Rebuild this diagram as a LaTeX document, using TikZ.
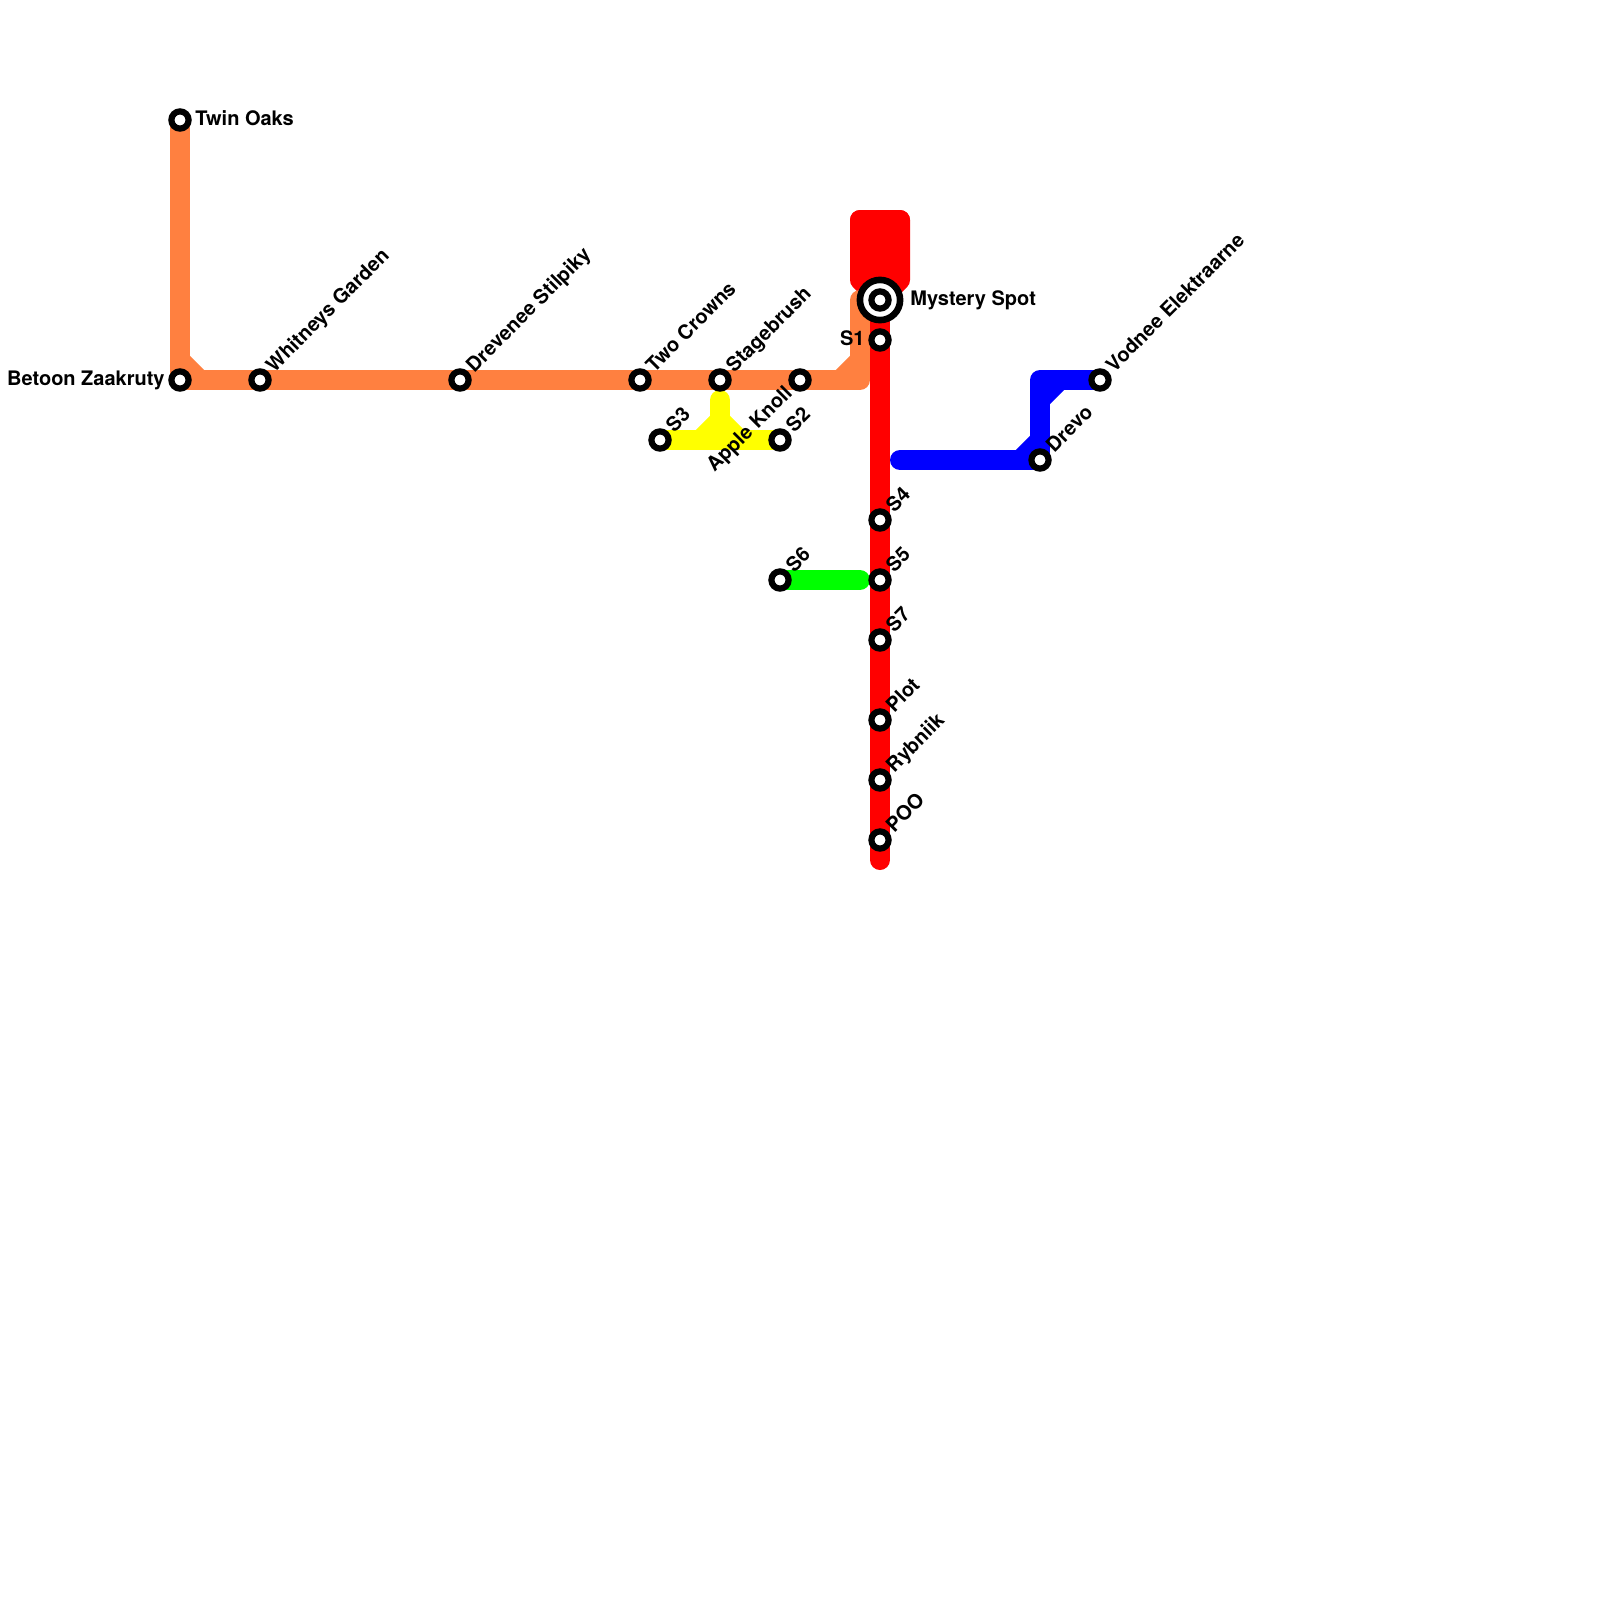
\documentclass[tikz,border=0pt]{standalone}
\usepackage{fontspec}
\setmainfont{TeX Gyre Heros}
\pgfdeclarelayer{lines}
\pgfsetlayers{lines,main}
\definecolor{lineorange}{RGB}{255,128,64}
\definecolor{lineblue}{RGB}{0,0,255}
\definecolor{linered}{RGB}{255,0,0}
\definecolor{lineyellow}{RGB}{255,255,0}
\definecolor{linegreen}{RGB}{0,255,0}
\tikzset{
  metro/.style={line width=10pt,line cap=round,line join=round},
  buttline/.style={line width=10pt,line cap=butt,line join=round},
  station/.style={circle,draw=black,fill=white,line width=3.1pt,minimum size=8.6pt,inner sep=0pt,outer sep=0pt},
  interchange/.style={circle,draw=black,fill=white,line width=3.3pt,minimum size=20.1pt,inner sep=0pt,outer sep=0pt},
  lab/.style={font=\bfseries\fontsize{10}{12}\selectfont,inner sep=0pt,text=black},
  diag/.style={lab,anchor=base west,rotate=45},
}
\begin{document}
\begin{tikzpicture}[x=0.5pt,y=-0.5pt]
\useasboundingbox (0,0) rectangle (1600,1600);
% stations
\node[station] (twin) at (180,120) {};
\node[station] (betoon) at (180,380) {};
\node[station] (whit) at (260,380) {};
\node[station] (drev) at (460,380) {};
\node[station] (two) at (640,380) {};
\node[station] (stage) at (720,380) {};
\node[station] (apple) at (800,380) {};
\node[station] (sthree) at (660,440) {};
\node[station] (stwo) at (780,440) {};
\node[interchange] (mystout) at (880,300) {};
\node[station] (myst) at (880,300) {};
\node[station] (sone) at (880,340) {};
\node[station] (sfour) at (880,520) {};
\node[station] (sfive) at (880,580) {};
\node[station] (sseven) at (880,640) {};
\node[station] (plot) at (880,720) {};
\node[station] (ryb) at (880,780) {};
\node[station] (poo) at (880,840) {};
\node[station] (ssix) at (780,580) {};
\node[station] (drevo) at (1040,460) {};
\node[station] (vod) at (1100,380) {};
% free ends and bends
\coordinate (ra) at (860,220);
\coordinate (rb) at (880,220);
\coordinate (rc) at (900,220);
\coordinate (ra2) at (860,280);
\coordinate (rc2) at (900,280);
\coordinate (rend) at (880,860);
\coordinate (oc) at (860,380);
\coordinate (od1) at (840,380);
\coordinate (od2) at (860,360);
\coordinate (ot) at (860,300);
\coordinate (ol1) at (180,360);
\coordinate (ol2) at (200,380);
\coordinate (yt) at (720,400);
\coordinate (ym) at (720,420);
\coordinate (yl) at (700,440);
\coordinate (yr) at (740,440);
\coordinate (bs) at (900,460);
\coordinate (bc) at (1040,380);
\coordinate (bd1) at (1020,460);
\coordinate (bd2) at (1040,440);
\coordinate (bd3) at (1040,400);
\coordinate (bd4) at (1060,380);
\coordinate (gend) at (860,580);
% labels
\node[lab,anchor=base west] (ltwin) at (195,125.5) {Twin Oaks};
\node[lab,anchor=base east] (lbet) at (165,385) {Betoon Zaakruty};
\node[lab,anchor=base west] (lmyst) at (910,305) {Mystery Spot};
\node[lab,anchor=base east] (lsone) at (865,345) {S1};
\node[diag] (lwhit) at (274,373.5) {Whitneys Garden};
\node[diag] (ldrev) at (474,373.5) {Drevenee Stilpiky};
\node[diag] (ltwo) at (654,373.5) {Two Crowns};
\node[diag] (lstage) at (734,373.5) {Stagebrush};
\node[lab,anchor=base east,rotate=45] (lapple) at (793.5,394) {Apple Knoll};
\node[diag] (lsthree) at (674,433.5) {S3};
\node[diag] (lstwo) at (794,433.5) {S2};
\node[diag] (lsfour) at (894,513.5) {S4};
\node[diag] (lsfive) at (894,573.5) {S5};
\node[diag] (lsseven) at (894,633.5) {S7};
\node[diag] (lplot) at (894,713.5) {Plot};
\node[diag] (lryb) at (894,773.5) {Rybniik};
\node[diag] (lpoo) at (894,833.5) {POO};
\node[diag] (lssix) at (794,573.5) {S6};
\node[diag] (ldrevo) at (1054,453.5) {Drevo};
\node[diag] (lvod) at (1114,373.5) {Vodnee Elektraarne};
% lines
\begin{pgfonlayer}{lines}
\draw[metro,linered] (ra) -- (ra2) -- (myst.center);
\draw[metro,linered] (rb) -- (myst.center);
\draw[metro,linered] (rc) -- (rc2) -- (myst.center);
\draw[metro,linered] (ra) -- (rc);
\draw[metro,lineorange] (twin.center) -- (betoon.center) -- (whit.center) -- (drev.center) -- (two.center) -- (stage.center) -- (apple.center) -- (oc) -- (ot);
\draw[buttline,lineorange] (ol1) -- (ol2);
\draw[buttline,lineorange] (od1) -- (od2);
\draw[metro,linered] (myst.center) -- (sone.center) -- (sfour.center) -- (sfive.center) -- (sseven.center) -- (plot.center) -- (ryb.center) -- (poo.center) -- (rend);
\draw[metro,lineyellow] (sthree.center) -- (stwo.center);
\draw[metro,lineyellow] (yt) -- (ym);
\draw[buttline,lineyellow] (ym) -- (yl);
\draw[buttline,lineyellow] (ym) -- (yr);
\draw[metro,linegreen] (ssix.center) -- (gend);
\draw[metro,lineblue] (bs) -- (drevo.center) -- (bc) -- (vod.center);
\draw[buttline,lineblue] (bd1) -- (bd2);
\draw[buttline,lineblue] (bd3) -- (bd4);
\end{pgfonlayer}
\end{tikzpicture}
\end{document}
